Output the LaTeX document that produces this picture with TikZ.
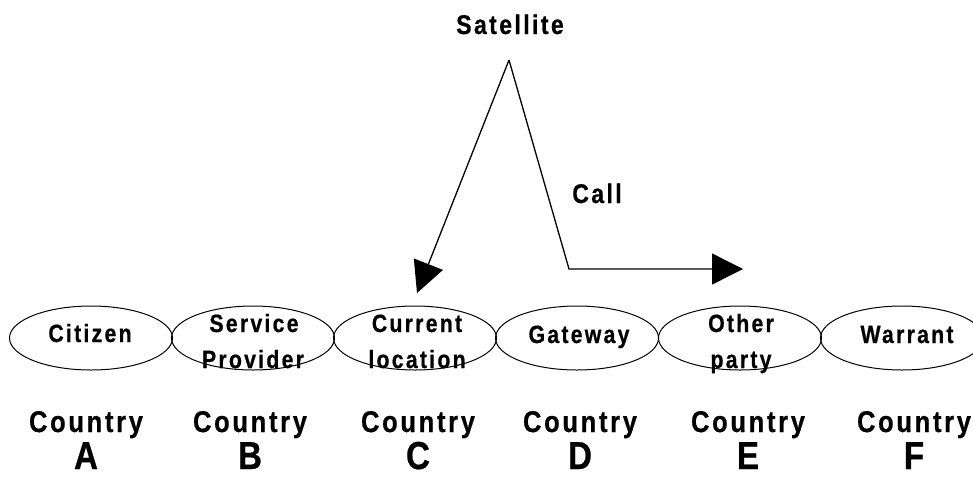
\documentclass[tikz,border=0pt]{standalone}
\usepackage{fontspec}
\setmainfont{Liberation Sans}[FakeStretch=0.85,LetterSpace=9,FakeBold=0.6]
\usetikzlibrary{arrows.meta,shapes.geometric}
\begin{document}
\begin{tikzpicture}[x=1pt,y=-1pt,
  oval/.style={draw, ellipse, minimum width=163pt, minimum height=64pt,
    inner sep=0pt, line width=1pt},
  intext/.style={font=\bfseries\fontsize{25}{30}\selectfont, inner sep=0pt, anchor=base},
  title/.style={font=\bfseries\fontsize{27}{32}\selectfont, inner sep=0pt, anchor=base},
  ctry/.style={font=\bfseries\fontsize{30}{36}\selectfont, inner sep=0pt, anchor=base},
  letter/.style={font=\bfseries\fontsize{39}{46}\selectfont, inner sep=0pt, anchor=base},
  link/.style={line width=1.3pt, -{Triangle[length=31pt,width=31pt]}}
]
\useasboundingbox (0,0) rectangle (973,477);

% countries along the bottom
\node[oval] (e1) at (91,338) {};
\node[oval] (e2) at (253,338) {};
\node[oval] (e3) at (415,338) {};
\node[oval] (e4) at (577,338) {};
\node[oval] (e5) at (740,338) {};
\node[oval] (e6) at (902,338) {};

\node[intext] (t1) at (90,342) {Citizen};
\node[intext] (t2a) at (254,332) {Service};
\node[intext] (t2b) at (253,368) {Provider};
\node[intext] (t3a) at (417,332) {Current};
\node[intext] (t3b) at (417,368) {location};
\node[intext] (t4) at (579,343) {Gateway};
\node[intext] (t5a) at (741,332) {Other};
\node[intext] (t5b) at (741,368) {party};
\node[intext] (t6) at (907,343) {Warrant};

\node[ctry] (cA) at (86,432) {Country};
\node[ctry] (cB) at (250,432) {Country};
\node[ctry] (cC) at (418,432) {Country};
\node[ctry] (cD) at (580,432) {Country};
\node[ctry] (cE) at (748,432) {Country};
\node[ctry] (cF) at (914,432) {Country};

\node[letter] (lA) at (86,469) {A};
\node[letter] (lB) at (250,469) {B};
\node[letter] (lC) at (418,469) {C};
\node[letter] (lD) at (580,469) {D};
\node[letter] (lE) at (748,469) {E};
\node[letter] (lF) at (914,469) {F};

% satellite relay
\node[title] (sat) at (510,34) {Satellite};
\node[title] (call) at (597,203) {Call};
\coordinate (apex) at (509,60);
\coordinate (down) at (417,293);
\coordinate (bend) at (569,269);
\coordinate (out) at (743,269);

\draw[link] (apex) -- (down);
\draw[link] (apex) -- (bend) -- (out);
\end{tikzpicture}
\end{document}
